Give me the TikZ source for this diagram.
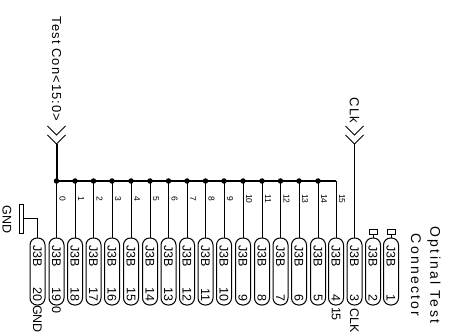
\documentclass[tikz,border=0pt]{standalone}
\usepackage{fontspec}
\setmainfont{Liberation Sans}
\newfontfamily\spaced[LetterSpace=8]{Liberation Sans}
\newfontfamily\spacedb[LetterSpace=16]{Liberation Sans}
\tikzset{
 x=1pt,y=-1pt,
 capsule/.style={draw,line width=1pt,rounded corners=7pt,minimum width=15pt,minimum height=67pt,inner sep=0pt},
 wire/.style={line width=1pt},
 buswire/.style={line width=2pt},
 dot/.style={circle,fill=black,inner sep=0pt,minimum size=5.5pt},
 txt/.style={rotate=-90,inner sep=0pt,font=\fontsize{12.5}{13}\selectfont},
 stxt/.style={rotate=-90,inner sep=0pt,font=\fontsize{8.5}{9}\selectfont},
 ltxt/.style={rotate=-90,inner sep=0pt,font=\fontsize{13}{14}\selectfont\spaced},
 ttxt/.style={rotate=-90,inner sep=0pt,font=\fontsize{14}{15}\selectfont\spacedb},
 nc/.style={draw,line width=1pt,minimum width=8pt,minimum height=4.5pt,inner sep=0pt},
 gndbar/.style={draw,line width=1pt,minimum width=4pt,minimum height=29pt,inner sep=0pt},
 chev/.style={line width=1pt},
}
\begin{document}
\begin{tikzpicture}
\useasboundingbox (0,0) rectangle (450,334);
% connector bodies
\foreach \name/\px/\num in {p20/37.5/20,p19/56.5/19,p18/75/18,p17/93.5/17,p16/112/16,p15/131/15,p14/150/14,p13/168.5/13,p12/187/12,p11/205.5/11,p10/224/10,p9/243/9,p8/262/8,p7/280.5/7,p6/299/6,p5/318/5,p4/336/4,p3/354.5/3,p2/373/2,p1/391/1}{
  \node[capsule] (\name) at (\px,271.5) {};
  \node[txt] (\name j) at (\px,256.5) {J3B};
  \node[txt,anchor=east] (\name n) at (\px,301.5) {\num};
}
% bus
\coordinate (bt) at (56.5,144);
\foreach \name/\px/\lab/\pin in {b0/56.5/0/p19,b1/75/1/p18,b2/93.5/2/p17,b3/112/3/p16,b4/131/4/p15,b5/150/5/p14,b6/168.5/6/p13,b7/187/7/p12,b8/205.5/8/p11,b9/224/9/p10,b10/243/10/p9,b11/262/11/p8,b12/280.5/12/p7,b13/299/13/p6,b14/318/14/p5}{
  \node[dot] (\name) at (\px,181) {};
  \draw[wire] (\name.center) -- (\name.center |- \pin.north);
  \node[stxt] (\name t) at (\px+6,199) {\lab};
}
\coordinate (b15) at (336,181);
\node[stxt] (b15t) at (342,199) {15};
\draw[wire] (b15) -- (b15 |- p4.north);
\draw[buswire] (bt) -- (b0.center) -- (b14.center) -- (b15);
% bus chevrons
\coordinate (c1) at (56.5,135);
\coordinate (c2) at (56.5,144);
\draw[chev] (47.5,126) -- (c1) -- (65.5,126);
\draw[chev] (47.5,135) -- (c2) -- (65.5,135);
\node[ltxt] (testcon) at (56.5,69) {Test Con<15:0>};
% CLK
\coordinate (k1) at (354.5,135);
\coordinate (k2) at (354.5,144);
\draw[chev] (345.5,126) -- (k1) -- (363.5,126);
\draw[chev] (345.5,135) -- (k2) -- (363.5,135);
\draw[wire] (k2) -- (k2 |- p3.north);
\node[ltxt] (clk) at (354.5,110.5) {CLk};
% no-connect stubs
\node[nc] (n2) at (373,232) {};
\node[nc] (n1) at (391,232) {};
\draw[wire] (n2) -- (n2 |- p2.north);
\draw[wire] (n1) -- (n1 |- p1.north);
% GND
\node[gndbar] (gb) at (21,218.5) {};
\draw[wire] (gb.east) -- (gb.east -| p20.north) -- (p20.north);
\node[txt] (gt) at (7,219.5) {GND};
% labels under pins
\node[txt] (g20) at (37.5,319) {GND};
\node[txt] (l0) at (56.5,310) {0};
\node[txt] (l15) at (336,314) {15};
\node[txt] (lc) at (354.5,321) {CLK};
% title
\node[ttxt] (t1) at (434,275) {Optinal Test};
\node[ttxt] (t2) at (416,275) {Connector};
\end{tikzpicture}
\end{document}
